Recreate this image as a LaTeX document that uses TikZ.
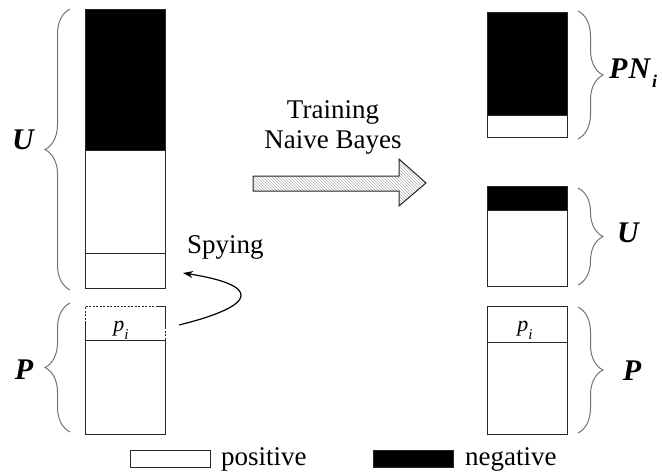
\documentclass[tikz,border=0pt]{standalone}
\usepackage{fontspec}
\setmainfont{Liberation Serif}
\newfontfamily\figserif{Liberation Serif}
\usetikzlibrary{decorations.pathreplacing,patterns,arrows.meta}

\begin{document}
\begin{tikzpicture}[x=1pt,y=-1pt,
  bar/.style={draw=black!85,line width=1pt},
  negbox/.style={bar,fill=black},
  posbox/.style={bar,fill=white},
  brc/.style={draw=black!55,line width=1pt,decorate,decoration={brace,amplitude=25pt}},
  setlbl/.style={font=\figserif\fontsize{30}{32}\selectfont\bfseries\itshape,inner sep=0pt},
  txt/.style={font=\figserif\fontsize{27}{30}\selectfont,inner sep=0pt},
  smalllbl/.style={font=\figserif\fontsize{22}{24}\selectfont\itshape,inner sep=0pt},
]
\useasboundingbox (0,0) rectangle (662,472);

% ---- left column: U above, P below ----
\draw[negbox] (85,9) rectangle (165,150);
\draw[posbox] (85,150) rectangle (165,253);
\draw[posbox] (85,253) rectangle (165,288);

\draw[posbox] (85,340) rectangle (165,434);
% spy subset p_i, partly outlined with dots
\draw[bar,dash pattern=on 2pt off 1.5pt] (85,323) -- (85,306) -- (158,306);
\draw[bar] (158,306) -- (165,306) -- (165,327);
\draw[bar,dash pattern=on 2pt off 1.5pt] (165,327) -- (165,340);
\draw[bar] (85,323) -- (85,340);
\node[smalllbl,anchor=base] (piL) at (121,331) {p\raisebox{-8pt}{\fontsize{15}{15}\selectfont i}};

\draw[brc] (70,290) -- (70,9);
\draw[brc] (70,432) -- (70,303);
\node[setlbl] (UL) at (23,140) {U};
\node[setlbl] (PL) at (24,370) {P};

% ---- training arrow ----
\draw[black!85,line width=1pt,pattern=north west lines,pattern color=black!30]
  (253,176) -- (399,176) -- (399,159) -- (426,183) -- (399,206) -- (399,191) -- (253,191) -- cycle;
\node[txt,anchor=base] (train1) at (333,118) {Training};
\node[txt,anchor=base] (train2) at (333,148) {Naive Bayes};

% ---- spying ----
\node[txt,anchor=base west] (spy) at (187,253) {Spying};
\coordinate (spyfrom) at (179,325);
\coordinate (spyto) at (183,273);
\draw[black,line width=1.2pt,-{Stealth[length=10pt,width=7pt]}]
  (spyfrom) .. controls (260,305) and (260,285) .. (spyto);

% ---- right column: PN_i, U, P ----
\draw[negbox] (487,12) rectangle (567,115);
\draw[posbox] (487,115) rectangle (567,137);

\draw[negbox] (487,186) rectangle (567,210);
\draw[posbox] (487,210) rectangle (567,286);

\draw[posbox] (487,306) rectangle (567,342);
\draw[posbox] (487,342) rectangle (567,434);
\node[smalllbl,anchor=base] (piR) at (525,331) {p\raisebox{-8pt}{\fontsize{15}{15}\selectfont i}};

\draw[brc] (578,11) -- (578,139);
\draw[brc] (578,188) -- (578,285);
\draw[brc] (578,307) -- (578,433);
\node[setlbl,anchor=west] (PNR) at (609,73) {P\kern1pt N\kern2pt\raisebox{-9pt}{\fontsize{18}{18}\selectfont i}};
\node[setlbl] (UR) at (628,233) {U};
\node[setlbl] (PR) at (632,371) {P};

% ---- legend ----
\draw[posbox] (130,450) rectangle (210,467);
\node[txt,anchor=base west] (legpos) at (221,465) {positive};
\draw[negbox] (373,450) rectangle (453,467);
\node[txt,anchor=base west] (legneg) at (465,465) {negative};
\end{tikzpicture}
\end{document}
